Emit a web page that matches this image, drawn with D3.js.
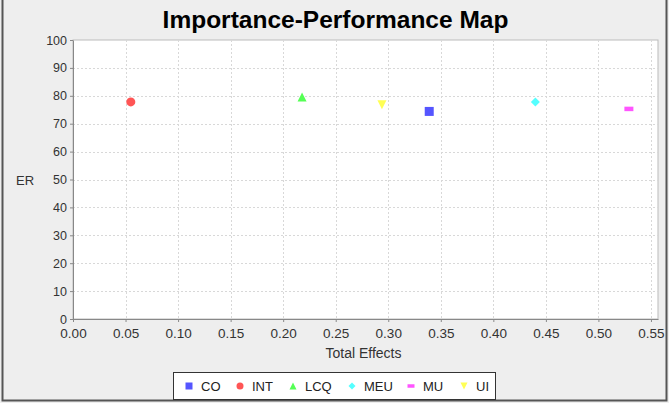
<!DOCTYPE html>
<html>
<head>
<meta charset="utf-8">
<script src="https://d3js.org/d3.v7.min.js"></script>
<style>
  body { margin: 0; background: #eeeeee; }
  text { font-family: "Liberation Sans", Arial, sans-serif; }
</style>
</head>
<body>
<div id="chart"></div>
<script>
var svgWidth = 669;
var svgHeight = 403;

// data
var seriesNames = ["CO", "INT", "LCQ", "MEU", "MU", "UI"];
var totalEffects = [0.339, 0.055, 0.218, 0.440, 0.529, 0.294];
var erValues = [74.4, 77.8, 79.6, 77.8, 75.3, 76.8];
var seriesColors = ["#5555ff", "#ff5555", "#55ff55", "#55ffff", "#ff55ff", "#ffff55"];
var xTicks = [0, 0.05, 0.10, 0.15, 0.20, 0.25, 0.30, 0.35, 0.40, 0.45, 0.50, 0.55];
var yTicks = [0, 10, 20, 30, 40, 50, 60, 70, 80, 90, 100];

var margin = { top: 40, right: 11, bottom: 84, left: 73 };
var width = svgWidth - margin.left - margin.right;
var height = svgHeight - margin.top - margin.bottom;

var svg = d3.select("#chart")
  .append("svg")
    .attr("width", svgWidth)
    .attr("height", svgHeight);

svg.append("rect")
  .attr("width", svgWidth)
  .attr("height", svgHeight)
  .attr("fill", "#eeeeee");

// outer frame (left, right, bottom)
svg.append("path")
  .attr("d", "M2.5,0 V400.5 H666.5 V0")
  .attr("fill", "none")
  .attr("stroke", "#555")
  .attr("stroke-width", 2);

svg.append("text")
  .attr("x", svgWidth / 2 + 1)
  .attr("y", 28)
  .attr("text-anchor", "middle")
  .attr("font-size", "24.5px")
  .attr("font-weight", "bold")
  .text("Importance-Performance Map");

var chartGroup = svg.append("g")
  .attr("transform", `translate(${margin.left}, ${margin.top})`);

var xScale = d3.scaleLinear().domain([0, 0.5567]).range([0, width]);
var yScale = d3.scaleLinear().domain([0, 100]).range([height, 0]);

chartGroup.append("rect")
  .attr("width", width)
  .attr("height", height)
  .attr("fill", "#ffffff")
  .attr("stroke", "#bbbbbb");

// grid
chartGroup.selectAll(".vgrid")
  .data(xTicks.slice(1))
  .enter()
  .append("line")
  .attr("x1", d => Math.round(xScale(d)) + 0.5)
  .attr("x2", d => Math.round(xScale(d)) + 0.5)
  .attr("y1", 0)
  .attr("y2", height)
  .attr("stroke", "#d8d8d8")
  .attr("stroke-dasharray", "2,2");

chartGroup.selectAll(".hgrid")
  .data(yTicks.slice(1, -1))
  .enter()
  .append("line")
  .attr("x1", 0)
  .attr("x2", width)
  .attr("y1", d => Math.round(yScale(d)) + 0.5)
  .attr("y2", d => Math.round(yScale(d)) + 0.5)
  .attr("stroke", "#d8d8d8")
  .attr("stroke-dasharray", "2,2");

// axes
var bottomAxis = d3.axisBottom(xScale)
  .tickValues(xTicks)
  .tickFormat(d3.format(".2f"))
  .tickSizeInner(3)
  .tickSizeOuter(0)
  .tickPadding(6);
var leftAxis = d3.axisLeft(yScale)
  .tickValues(yTicks)
  .tickSizeInner(3)
  .tickSizeOuter(0)
  .tickPadding(3);

var xAxisG = chartGroup.append("g")
  .attr("transform", `translate(0, ${height})`)
  .call(bottomAxis);
var yAxisG = chartGroup.append("g")
  .call(leftAxis);

[xAxisG, yAxisG].forEach(function(g) {
  g.select(".domain").attr("stroke", "#888");
  g.selectAll(".tick line").attr("stroke", "#888");
  g.selectAll("text")
    .attr("font-family", "'Liberation Sans', Arial, sans-serif")
    .attr("fill", "#333");
});
xAxisG.selectAll("text").attr("font-size", "13.5px");
yAxisG.selectAll("text").attr("font-size", "12.5px");

// shapes
function symbolPath(i, s) {
  switch (i) {
    case 0: return `M${-s},${-s}H${s}V${s}H${-s}Z`;
    case 1: return d3.arc()({ innerRadius: 0, outerRadius: s, startAngle: 0, endAngle: 2 * Math.PI });
    case 2: return `M0,${-s}L${s},${s}L${-s},${s}Z`;
    case 3: return `M0,${-s}L${s},0L0,${s}L${-s},0Z`;
    case 4: return `M${-s},${-s / 2}H${s}V${s / 2}H${-s}Z`;
    case 5: return `M${-s},${-s}L${s},${-s}L0,${s}Z`;
  }
}

chartGroup.selectAll(".point")
  .data(seriesNames)
  .enter()
  .append("path")
  .attr("class", "point")
  .attr("transform", (d, i) => `translate(${xScale(totalEffects[i])}, ${yScale(erValues[i])})`)
  .attr("d", (d, i) => symbolPath(i, 4.5))
  .attr("fill", (d, i) => seriesColors[i]);

// axis labels
chartGroup.append("text")
  .attr("x", -48)
  .attr("y", yScale(50) + 5)
  .attr("text-anchor", "middle")
  .attr("font-size", "13px")
  .attr("fill", "#333")
  .text("ER");

chartGroup.append("text")
  .attr("x", width / 2 - 2)
  .attr("y", height + 39)
  .attr("text-anchor", "middle")
  .attr("font-size", "14px")
  .attr("fill", "#333")
  .text("Total Effects");

// legend
var legend = svg.append("g");
legend.append("rect")
  .attr("x", 173.5)
  .attr("y", 372.5)
  .attr("width", 322)
  .attr("height", 27)
  .attr("fill", "#ffffff")
  .attr("stroke", "#333");

var legendSymbolX = [189, 240, 293, 352, 411, 464];
var legendItems = legend.selectAll(".item")
  .data(seriesNames)
  .enter()
  .append("g")
  .attr("transform", (d, i) => `translate(${legendSymbolX[i]}, 386)`);

legendItems.append("path")
  .attr("d", (d, i) => symbolPath(i, 3.5))
  .attr("fill", (d, i) => seriesColors[i]);

legendItems.append("text")
  .attr("x", 12)
  .attr("y", 5)
  .attr("font-size", "13px")
  .attr("fill", "#222")
  .text(d => d);
</script>
</body>
</html>
